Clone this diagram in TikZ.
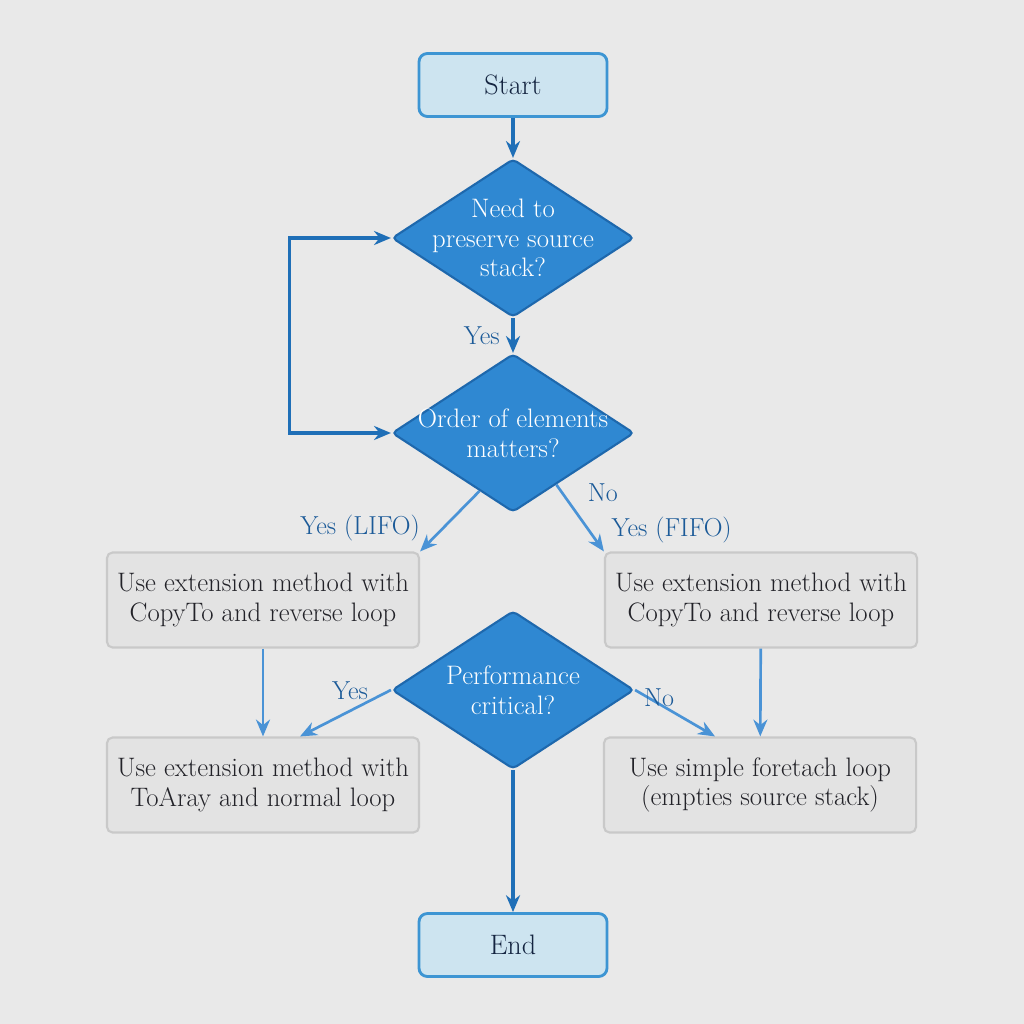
\documentclass[tikz,border=0pt]{standalone}
\usetikzlibrary{arrows.meta,shapes.geometric,calc}
\definecolor{bgGray}{HTML}{E9E9E9}
\definecolor{termFill}{HTML}{CDE4F0}
\definecolor{termDraw}{HTML}{3D95D3}
\definecolor{decFill}{HTML}{2F88D2}
\definecolor{decDraw}{HTML}{1E68AD}
\definecolor{boxFill}{HTML}{E3E3E3}
\definecolor{boxDraw}{HTML}{C9C9C9}
\definecolor{arrowDark}{HTML}{1F6FB7}
\definecolor{arrowLight}{HTML}{4A93D6}
\definecolor{labelBlue}{HTML}{1B5A98}
\definecolor{textDark}{HTML}{222228}
\definecolor{textNavy}{HTML}{142440}

\begin{document}
\begin{tikzpicture}[
    x=0.025cm, y=-0.025cm,
    line/.style={line width=2.2pt, ->, >={Stealth[length=12pt,width=10pt]}, draw=arrowDark},
    lineLight/.style={line, draw=arrowLight, line width=1.9pt},
    terminal/.style={rectangle, rounded corners=6pt, minimum width=4.7cm, minimum height=1.575cm,
        fill=termFill, draw=termDraw, line width=2pt, text=textNavy, font=\fontsize{20}{23}\selectfont},
    decision/.style={diamond, aspect=1.5, minimum width=6.05cm, minimum height=3.95cm, inner sep=-12pt,
        rounded corners=3pt, fill=decFill, draw=decDraw, line width=1.5pt, text=white, align=center,
        font=\fontsize{19}{21}\selectfont},
    process/.style={rectangle, rounded corners=4pt, minimum width=7.8cm, minimum height=2.375cm,
        fill=boxFill, draw=boxDraw, line width=1.5pt, text=textDark, align=center,
        font=\fontsize{19}{21}\selectfont},
    lbl/.style={text=labelBlue, font=\fontsize{18.5}{21}\selectfont}
]
    % Фон и рамка
    \useasboundingbox[fill=bgGray] (0,0) rectangle (1024,1024);

    % Узлы
    \node[terminal] (start) at (513,85) {Start};
    \node[decision] (preserve) at (513,238) {Need to\\preserve source\\stack?};
    \node[decision] (order) at (513,433) {Order of elements\\matters?};
    \node[process] (lifo) at (263,600) {Use extension method with\\CopyTo and reverse loop};
    \node[process] (fifo) at (761,600) {Use extension method with\\CopyTo and reverse loop};
    \node[decision] (perf) at (513,690) {Performance\\critical?};
    \node[process] (toarray) at (263,785) {Use extension method with\\ToAray and normal loop};
    \node[process] (foreach) at (760,785) {Use simple foretach loop\\(empties source stack)};
    \node[terminal] (end) at (513,945) {End};

    % Стрелки
    \draw[line] (start) -- (preserve);
    \draw[line] (preserve) -- node[lbl, midway, left=5pt] {Yes} (order);
    \draw[line, <->] (preserve.west) -- ++(-101,0) |- (order.west);

    \draw[lineLight] (order.240) -- node[lbl, pos=0.62, left=12pt] {Yes (LIFO)} (lifo.north east);
    \draw[lineLight] (order.-50)
        -- node[lbl, pos=0.12, right=14pt] {No}
           node[lbl, pos=0.68, right=12pt] {Yes (FIFO)} (fifo.north west);

    \draw[lineLight] (lifo) -- (toarray);
    \draw[lineLight] (fifo) -- (foreach);
    \draw[lineLight] (perf.west) -- node[lbl, pos=0.45, above=4pt] {Yes} ($(toarray.north)+(37,0)$);
    \draw[lineLight] (perf.east) -- node[lbl, pos=0.3, above=-6pt] {No} ($(foreach.north)+(-45,0)$);

    \draw[line] (perf) -- (end);
\end{tikzpicture}
\end{document}
